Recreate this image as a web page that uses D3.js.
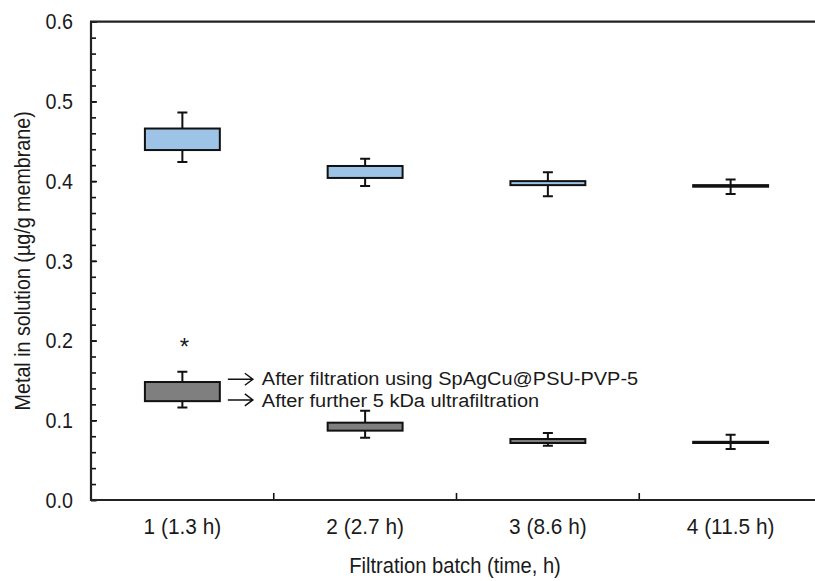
<!DOCTYPE html>
<html>
<head>
<meta charset="utf-8">
<script src="https://cdn.jsdelivr.net/npm/d3@7"></script>
<style>
  body { margin: 0; background: #fff; }
  svg { display: block; }
  text { font-family: "Liberation Sans", Arial, sans-serif; fill: #1a1a1a; }
</style>
</head>
<body>
<svg></svg>
<script>
const categories = ['1 (1.3 h)', '2 (2.7 h)', '3 (8.6 h)', '4 (11.5 h)'];

// before 5 kDa ultrafiltration (blue)
const blueLow = [0.424, 0.394, 0.381, 0.384];
const blueQ1 = [0.439, 0.404, 0.395, 0.393];
const blueQ3 = [0.466, 0.419, 0.400, 0.395];
const blueHigh = [0.486, 0.428, 0.411, 0.402];

// after further 5 kDa ultrafiltration (grey)
const greyLow = [0.116, 0.078, 0.068, 0.064];
const greyQ1 = [0.124, 0.087, 0.0715, 0.0715];
const greyQ3 = [0.148, 0.097, 0.0765, 0.073];
const greyHigh = [0.161, 0.112, 0.084, 0.082];

const yTicks = [0, 0.1, 0.2, 0.3, 0.4, 0.5, 0.6];
const yMinorTicks = d3.range(0, 61, 2).map(d => d / 100);
const noteLabels = ['After filtration using SpAgCu@PSU-PVP-5', 'After further 5 kDa ultrafiltration'];

const width = 815;
const height = 581;
const margin = { top: 21.7, right: -7, bottom: 81, left: 91 };
const fs = 22.4;   // text looks tall and slightly narrow in the original
const sx = 0.88;

const svg = d3.select('svg')
    .attr('width', width)
    .attr('height', height);

// squeeze text horizontally around its own anchor point
function squeeze(sel, s = sx) {
    sel.each(function () {
        const t = d3.select(this);
        const tx = +t.attr('x') || 0;
        const ty = +t.attr('y') || 0;
        const rot = t.attr('data-rot');
        t.attr('x', 0).attr('y', 0)
            .attr('transform', `translate(${tx},${ty})${rot ? ` rotate(${rot})` : ''} scale(${s},1)`);
    });
}

const x = d3.scaleBand()
    .domain(categories)
    .range([margin.left, width - margin.right])
    .padding(0);

const y = d3.scaleLinear()
    .domain([0, 0.6])
    .range([height - margin.bottom, margin.top]);

const boxW = x.bandwidth() * 0.41;

function boxData(low, q1, q3, high) {
    return categories.map((c, i) => ({ c, low: low[i], q1: q1[i], q3: q3[i], high: high[i] }));
}

function drawBoxes(data, fill) {
    const g = svg.append('g');
    // whiskers
    g.selectAll('.whisker')
        .data(data)
        .enter().append('path')
        .attr('fill', 'none')
        .attr('stroke', '#111')
        .attr('stroke-width', 2)
        .attr('d', d => {
            const cx = x(d.c) + x.bandwidth() / 2;
            return `M${cx - 5},${y(d.high)}H${cx + 5}M${cx},${y(d.high)}V${y(d.low)}M${cx - 5},${y(d.low)}H${cx + 5}`;
        });
    g.selectAll('.box')
        .data(data)
        .enter().append('rect')
        .attr('x', d => x(d.c) + (x.bandwidth() - boxW) / 2)
        .attr('y', d => y(d.q3))
        .attr('width', boxW)
        .attr('height', d => y(d.q1) - y(d.q3))
        .attr('fill', fill)
        .attr('stroke', '#111')
        .attr('stroke-width', 2);
}

drawBoxes(boxData(blueLow, blueQ1, blueQ3, blueHigh), '#9dc3e6');
drawBoxes(boxData(greyLow, greyQ1, greyQ3, greyHigh), '#7f7f7f');

// y axis with inward ticks
svg.append('g')
    .attr('transform', `translate(${margin.left},0)`)
    .call(d3.axisLeft(y).tickValues(yMinorTicks).tickSize(-5).tickFormat(''))
    .call(g => g.select('.domain').remove())
    .call(g => g.selectAll('line').attr('stroke', '#111').attr('stroke-width', 1.6));

svg.append('g')
    .attr('transform', `translate(${margin.left},0)`)
    .call(d3.axisLeft(y).tickValues(yTicks).tickSize(-6).tickPadding(18).tickFormat(d3.format('.1f')))
    .call(g => g.select('.domain').remove())
    .call(g => g.selectAll('line').attr('stroke', '#111').attr('stroke-width', 1.6))
    .call(g => g.selectAll('text').attr('font-size', fs).attr('fill', '#1a1a1a')
        .style('font-family', '"Liberation Sans", Arial, sans-serif').call(squeeze));

// x axis labels
svg.append('g')
    .attr('transform', `translate(0,${height - margin.bottom})`)
    .call(d3.axisBottom(x).tickSize(0).tickPadding(18))
    .call(g => g.select('.domain').remove())
    .call(g => g.selectAll('text').attr('font-size', fs).attr('fill', '#1a1a1a')
        .style('font-family', '"Liberation Sans", Arial, sans-serif').call(squeeze, 0.93));

// x ticks at batch boundaries, pointing inward
svg.append('g')
    .selectAll('line')
    .data(categories.slice(1))
    .enter().append('line')
    .attr('x1', d => x(d))
    .attr('x2', d => x(d))
    .attr('y1', y(0))
    .attr('y2', y(0) - 7)
    .attr('stroke', '#111')
    .attr('stroke-width', 1.6);

// frame (right side falls outside the picture)
svg.append('path')
    .attr('fill', 'none')
    .attr('stroke', '#222')
    .attr('stroke-width', 2.2)
    .attr('d', `M${x.range()[1]},${y(0.6)}H${margin.left}V${y(0)}H${x.range()[1]}`);

// annotations
const first = x(categories[0]) + x.bandwidth() / 2;
svg.append('text')
    .attr('x', first + 2)
    .attr('y', y(0.2) + 14)
    .attr('text-anchor', 'middle')
    .attr('font-size', 24)
    .text('*');

// arrows point at the top and bottom of the first grey box
const noteVals = [greyQ3[0] + 0.0035, greyQ1[0] + 0.0015];
const arrowX0 = first + boxW / 2 + 8;
svg.append('g')
    .selectAll('path')
    .data(noteVals)
    .enter().append('path')
    .attr('fill', 'none')
    .attr('stroke', '#111')
    .attr('stroke-width', 1.5)
    .attr('d', v => `M${arrowX0},${y(v)}H${arrowX0 + 25}M${arrowX0 + 17},${y(v) - 6}L${arrowX0 + 25},${y(v)}L${arrowX0 + 17},${y(v) + 6}`);

const note = svg.append('text')
    .attr('x', arrowX0 + 34)
    .attr('y', y(noteVals[0]) + 6)
    .attr('font-size', 19.2);
note.selectAll('tspan')
    .data(noteLabels)
    .enter().append('tspan')
    .attr('x', 0)
    .attr('dy', (d, i) => i === 0 ? 0 : 21.6)
    .text(d => d);
note.call(squeeze, 1.04);

// axis titles
svg.append('text')
    .attr('text-anchor', 'middle')
    .attr('x', 455)
    .attr('y', 573)
    .attr('font-size', fs)
    .text('Filtration batch (time, h)')
    .call(squeeze, 0.9);

svg.append('text')
    .attr('text-anchor', 'middle')
    .attr('x', 30)
    .attr('y', (y(0) + y(0.6)) / 2)
    .attr('data-rot', -90)
    .attr('font-size', fs)
    .text('Metal in solution (µg/g membrane)')
    .call(squeeze);
</script>
</body>
</html>
